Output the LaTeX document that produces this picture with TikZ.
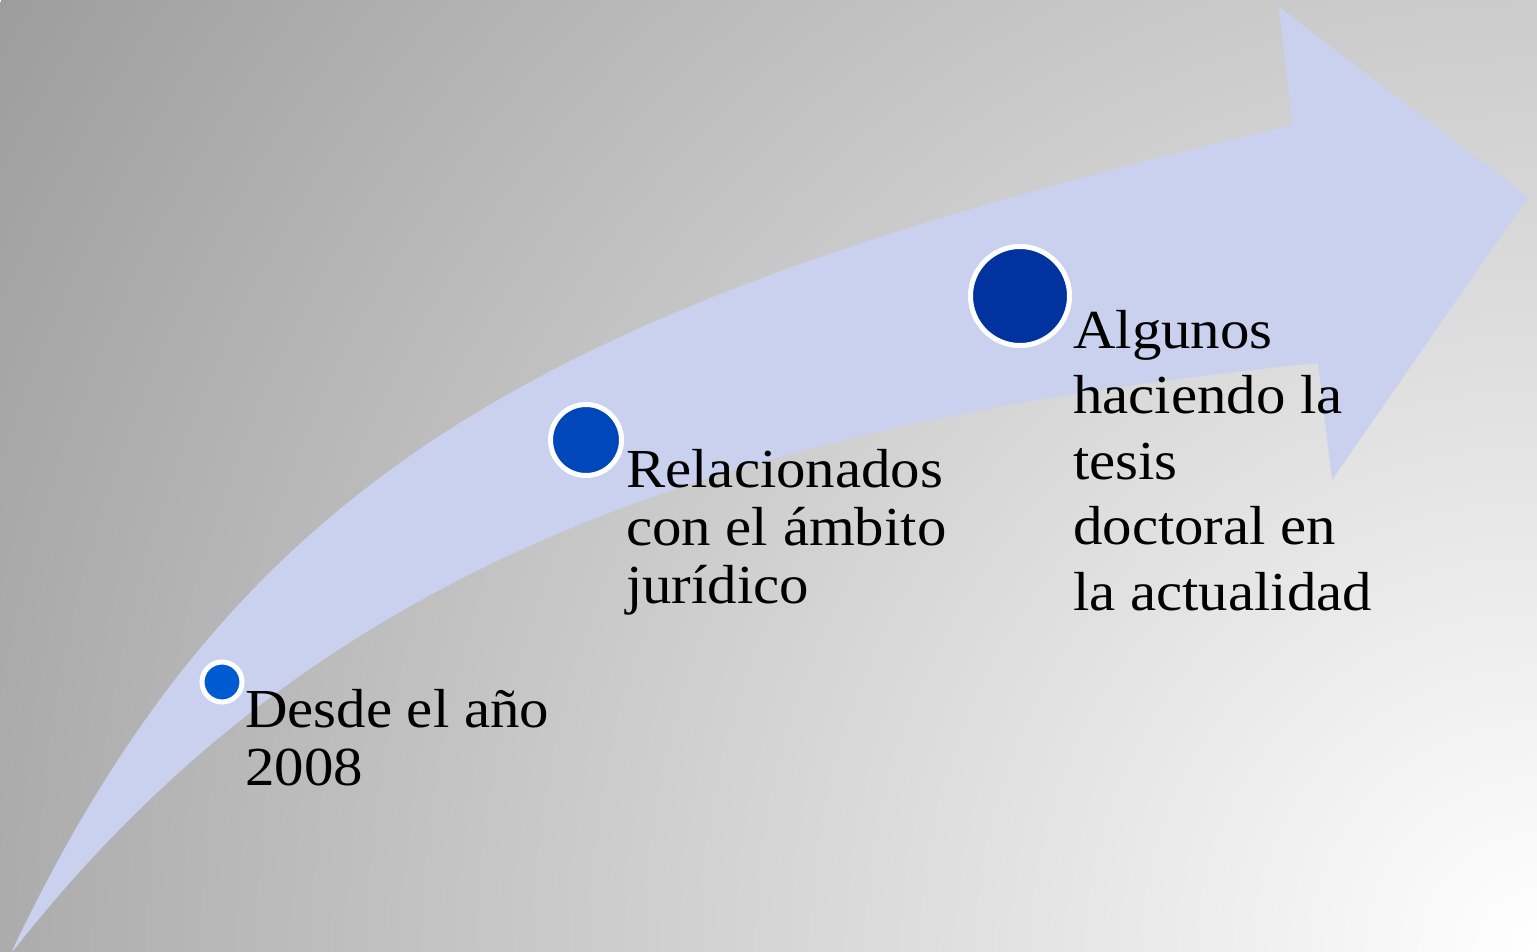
\documentclass[tikz,border=0pt]{standalone}
\usepackage{fontspec}
\setmainfont{Liberation Serif}[FakeStretch=1.07]

\definecolor{arrowfill}{RGB}{202,209,239}
\definecolor{dotone}{RGB}{0,90,210}
\definecolor{dottwo}{RGB}{0,71,187}
\definecolor{dotthree}{RGB}{0,51,160}
\definecolor{bgdark}{RGB}{157,157,157}
\pgfdeclareradialshading{backshade}{\pgfpoint{0bp}{0bp}}{color(0bp)=(white); color(1800bp)=(bgdark)}

\begin{document}
\begin{tikzpicture}[x=1pt,y=-1pt,
    dot/.style={circle,draw=white,line width=5pt,inner sep=0pt},
    stagetext/.style={align=left,inner sep=0pt,anchor=base west,font=\fontsize{55}{58}\selectfont}]
    \useasboundingbox (0,0) rectangle (1537,951);
    \begin{scope}
      \clip (0,0) rectangle (1537,951);
      \pgftext[at=\pgfpoint{1537pt}{-951pt}]{\pgfuseshading{backshade}}
    \end{scope}
    % curved arrow
    \fill[arrowfill] (12,951) .. controls (242,467) and (553,300) .. (1292,125)
      -- (1279,7) -- (1528,197) -- (1332,480) -- (1318,363)
      .. controls (696,425) and (306,578) .. (13,951) -- cycle;
    % stages
    \node[dot,fill=dotone,minimum size=40pt] (d1) at (222,682) {};
    \node[dot,fill=dottwo,minimum size=71pt] (d2) at (586,440) {};
    \node[dot,fill=dotthree,minimum size=99pt] (d3) at (1020,296) {};
    % base anchor = last line
    \node[stagetext] (t1) at (245,785) {Desde el año\\2008};
    \node[stagetext] (t2) at (626,603) {Relacionados\\con el ámbito\\jurídico};
    \node[stagetext,font=\fontsize{55}{65.5}\selectfont] (t3) at (1073,610) {Algunos\\haciendo la\\tesis\\doctoral en\\la actualidad};
\end{tikzpicture}
\end{document}
